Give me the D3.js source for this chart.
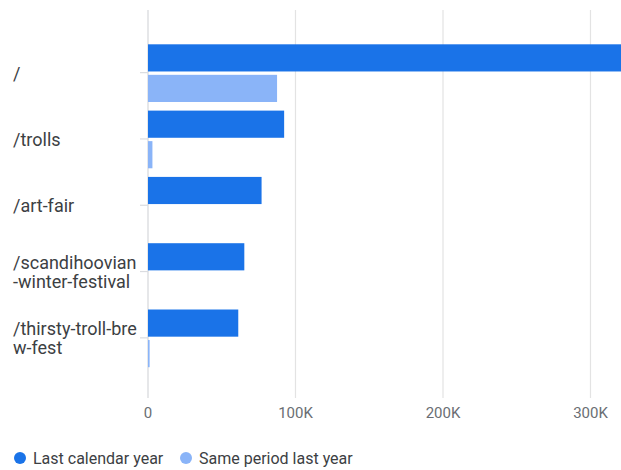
<!DOCTYPE html>
<html><head><meta charset="utf-8">
<script src="https://cdn.jsdelivr.net/npm/d3@7"></script>
<style>body{margin:0;background:#fff;font-family:Roboto,sans-serif}</style>
</head><body><svg id="c" width="621" height="470"></svg>
<script>
const categories = ["/", "/trolls", "/art-fair", "/scandihoovian-winter-festival", "/thirsty-troll-brew-fest"];
const labelLines = [["/"], ["/trolls"], ["/art-fair"], ["/scandihoovian", "-winter-festival"], ["/thirsty-troll-bre", "w-fest"]];
const seriesNames = ["Last calendar year", "Same period last year"];
const lastCalendarYear = [322000, 92300, 77000, 65300, 61200];
const samePeriodLastYear = [87500, 3000, 0, 0, 1100];
const xTicks = [0, 100000, 200000, 300000];
const xTickLabels = ["0", "100K", "200K", "300K"];
const colors = ["#1a73e8", "#8ab4f8"];

const svg = d3.select("#c");
const x = d3.scaleLinear().domain([0, 320000]).range([148, 620]);
const y = d3.scaleBand().domain(categories).range([40, 371.5]).paddingInner(0.13).paddingOuter(0.065);
const yi = d3.scaleBand().domain(seriesNames).range([0, y.bandwidth()]).paddingInner(0.11);

// grid
svg.append("g").selectAll("line").data(xTicks).join("line")
  .attr("x1", d => x(d)).attr("x2", d => x(d)).attr("y1", 10).attr("y2", 398)
  .attr("stroke", d => d === 0 ? "#d5d7da" : "#e3e3e3").attr("stroke-width", 1.2);
svg.append("g").selectAll("text").data(xTicks).join("text")
  .attr("x", d => x(d)).attr("y", 417.5).attr("text-anchor", "middle")
  .attr("font-size", 15).attr("fill", "#6a6e73").text((d, i) => xTickLabels[i]);

// y ticks
svg.append("g").selectAll("line").data(categories).join("line")
  .attr("x1", 140).attr("x2", 148)
  .attr("y1", d => y(d) + y.bandwidth() / 2 - 0.5).attr("y2", d => y(d) + y.bandwidth() / 2 - 0.5)
  .attr("stroke", "#dadce0").attr("stroke-width", 1.2);

// labels
const lbl = svg.append("g").selectAll("text").data(categories).join("text")
  .attr("font-size", 18).attr("fill", "#3c4043");
lbl.each(function(d, i) {
  const lines = labelLines[i];
  const cy = y(d) + y.bandwidth() / 2;
  const lh = 19;
  d3.select(this).selectAll("tspan").data(lines).join("tspan")
    .attr("x", 13)
    .attr("y", (l, j) => cy + (j - (lines.length - 1) / 2) * lh + 6.5)
    .text(l => l);
});

// bars
const series = [lastCalendarYear, samePeriodLastYear];
series.forEach((vals, s) => {
  svg.append("g").selectAll("rect").data(categories).join("rect")
    .attr("x", x(0))
    .attr("y", d => y(d) + yi(seriesNames[s]))
    .attr("height", yi.bandwidth())
    .attr("width", (d, i) => Math.max(0, Math.min(x(vals[i]), 621) - x(0)))
    .attr("fill", colors[s]);
});

// legend
const leg = svg.append("g");
const legX = [20, 186];
seriesNames.forEach((n, i) => {
  leg.append("circle").attr("cx", legX[i]).attr("cy", 458).attr("r", 6).attr("fill", colors[i]);
  leg.append("text").attr("x", legX[i] + 13).attr("y", 463.5).attr("font-size", 16)
    .attr("fill", "#3c4043").text(n);
});
</script></body></html>
